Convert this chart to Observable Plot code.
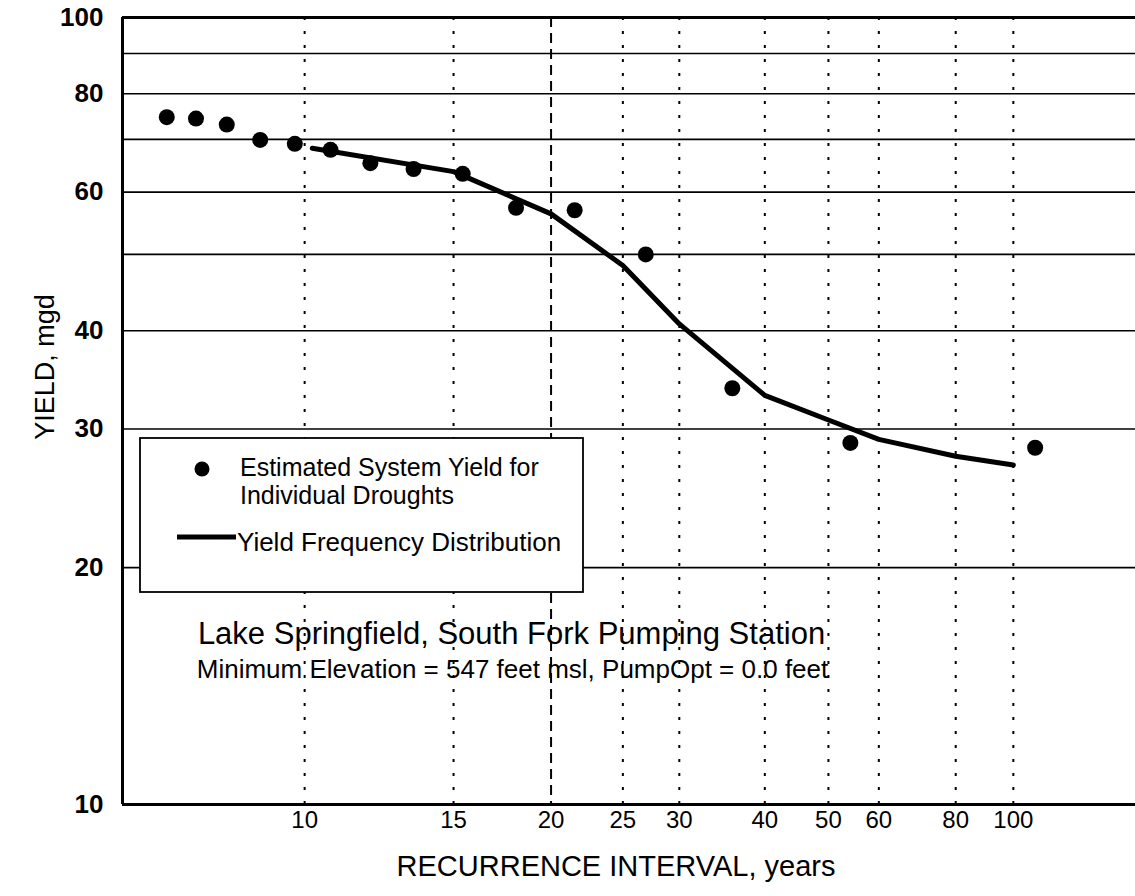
<!DOCTYPE html>
<html>
<head>
<meta charset="utf-8">
<script src="https://cdn.jsdelivr.net/npm/d3@7"></script>
<script src="https://cdn.jsdelivr.net/npm/@observablehq/plot@0.6"></script>
<style>
  html, body { margin: 0; padding: 0; background: white; }
  #chart svg { display: block; }
</style>
</head>
<body>
<div id="chart"></div>
<script>
// ---- Data ----
const tickT = [10, 15, 20, 25, 30, 40, 50, 60, 80, 100];      // recurrence interval tick labels (years)
const hGridY = [20, 30, 40, 50, 60, 70, 80, 90];              // horizontal grid (mgd)
const yTickLabels = [10, 20, 30, 40, 60, 80, 100];            // y tick labels (mgd)

// Estimated system yield for individual droughts
const droughtT     = [7.12, 7.63, 8.22, 8.93, 9.75, 10.7, 11.9, 13.4, 15.4, 18.0, 21.5, 26.9, 35.8, 54.1, 109];
const droughtYield = [74.7, 74.4, 73.1, 69.9, 69.1, 67.9, 65.3, 64.2, 63.3, 57.3, 56.9, 50.0, 33.8, 28.8, 28.4];

// Yield frequency distribution
const curveT     = [10.2, 15, 20, 25, 30, 40, 50, 60, 80, 100];
const curveYield = [68.2, 63.7, 56.3, 48.4, 40.8, 33.1, 30.8, 29.1, 27.7, 27.0];

const xDomainT = [6.43, 164];

// ---- Normal probability transform of non-exceedance probability ----
function probit(p) {
  const a = [-3.969683028665376e+01, 2.209460984245205e+02, -2.759285104469687e+02, 1.383577518672690e+02, -3.066479806614716e+01, 2.506628277459239e+00];
  const b = [-5.447609879822406e+01, 1.615858368580409e+02, -1.556989798598866e+02, 6.680131188771972e+01, -1.328068155288572e+01];
  const c = [-7.784894002430293e-03, -3.223964580411365e-01, -2.400758277161838e+00, -2.549732539343734e+00, 4.374664141464968e+00, 2.938163982698783e+00];
  const d = [7.784695709041462e-03, 3.224671290700398e-01, 2.445134137142996e+00, 3.754408661907416e+00];
  const plow = 0.02425, phigh = 1 - plow;
  let q, r;
  if (p < plow) {
    q = Math.sqrt(-2 * Math.log(p));
    return (((((c[0]*q+c[1])*q+c[2])*q+c[3])*q+c[4])*q+c[5]) / ((((d[0]*q+d[1])*q+d[2])*q+d[3])*q+1);
  }
  if (p <= phigh) {
    q = p - 0.5; r = q * q;
    return (((((a[0]*r+a[1])*r+a[2])*r+a[3])*r+a[4])*r+a[5])*q / (((((b[0]*r+b[1])*r+b[2])*r+b[3])*r+b[4])*r+1);
  }
  q = Math.sqrt(-2 * Math.log(1 - p));
  return -(((((c[0]*q+c[1])*q+c[2])*q+c[3])*q+c[4])*q+c[5]) / ((((d[0]*q+d[1])*q+d[2])*q+d[3])*q+1);
}
const z = T => probit(1 - 1 / T);

const droughts = droughtT.map((T, i) => ({T, Y: droughtYield[i]}));
const curve = curveT.map((T, i) => ({T, Y: curveYield[i]}));

const FONT = "'Liberation Sans', Arial, Helvetica, sans-serif";

const chart = Plot.plot({
  width: 1135,
  height: 896,
  marginLeft: 122,
  marginRight: 0,
  marginTop: 17,
  marginBottom: 92,
  style: {fontFamily: FONT, background: "white", color: "black", overflow: "visible"},
  x: {type: "linear", domain: xDomainT.map(t => z(t)), axis: null},
  y: {type: "log", domain: [10, 100], axis: null},
  marks: [
    Plot.ruleY(hGridY, {stroke: "black", strokeWidth: 1.6}),
    Plot.ruleX(tickT.filter(t => t !== 20), {x: t => z(t), stroke: "black", strokeWidth: 2, strokeDasharray: "3,11"}),
    Plot.ruleX([20], {x: t => z(t), stroke: "black", strokeWidth: 2, strokeDasharray: "10,6"}),
    Plot.ruleY([100], {stroke: "black", strokeWidth: 3}),
    Plot.ruleY([10], {stroke: "black", strokeWidth: 3}),
    Plot.ruleX([xDomainT[0]], {x: t => z(t), stroke: "black", strokeWidth: 3}),
    // tick labels through the scales
    Plot.text(yTickLabels, {y: d => d, text: d => String(d), frameAnchor: "left", textAnchor: "end", lineAnchor: "middle", dx: -19, fontSize: 26, fontWeight: "bold"}),
    Plot.text(tickT, {x: t => z(t), text: t => String(t), frameAnchor: "bottom", textAnchor: "middle", lineAnchor: "middle", dy: 16, fontSize: 24}),
    Plot.line(curve, {x: d => z(d.T), y: "Y", stroke: "black", strokeWidth: 5, strokeLinecap: "round", strokeLinejoin: "round"}),
    Plot.dot(droughts, {x: d => z(d.T), y: "Y", r: 8, fill: "black", stroke: "none"}),
    Plot.text(["RECURRENCE INTERVAL, years"], {frameAnchor: "bottom", textAnchor: "middle", lineAnchor: "middle", dx: -13, dy: 62, fontSize: 29}),
    Plot.text(["YIELD, mgd"], {frameAnchor: "left", textAnchor: "middle", lineAnchor: "middle", rotate: -90, dx: -77, dy: -44, fontSize: 27}),
    Plot.text(["Lake Springfield, South Fork Pumping Station"], {frameAnchor: "top-left", textAnchor: "middle", lineAnchor: "middle", dx: 389, dy: 617, fontSize: 31}),
    Plot.text(["Minimum Elevation = 547 feet msl, PumpOpt = 0.0 feet"], {frameAnchor: "top-left", textAnchor: "middle", lineAnchor: "middle", dx: 390, dy: 652, fontSize: 26})
  ]
});

document.getElementById("chart").appendChild(chart);

// ---- Legend box drawn inside the plot area ----
const svg = d3.select(chart);
const lg = svg.append("g").attr("class", "legend-box")
  .attr("font-family", FONT).attr("fill", "black").attr("text-anchor", "start");
lg.append("rect").attr("x", 140).attr("y", 438).attr("width", 443).attr("height", 154)
  .attr("fill", "white").attr("stroke", "black").attr("stroke-width", 1.8);
lg.append("circle").attr("cx", 202).attr("cy", 469).attr("r", 7.5).attr("fill", "black");
lg.append("text").attr("x", 240).attr("y", 476).attr("text-anchor", "start").attr("font-size", 25).text("Estimated System Yield for");
lg.append("text").attr("x", 240).attr("y", 504).attr("text-anchor", "start").attr("font-size", 25).text("Individual Droughts");
lg.append("line").attr("x1", 177).attr("x2", 236).attr("y1", 537).attr("y2", 537)
  .attr("stroke", "black").attr("stroke-width", 5);
lg.append("text").attr("x", 237).attr("y", 551).attr("text-anchor", "start").attr("font-size", 26).text("Yield Frequency Distribution");
</script>
</body>
</html>
